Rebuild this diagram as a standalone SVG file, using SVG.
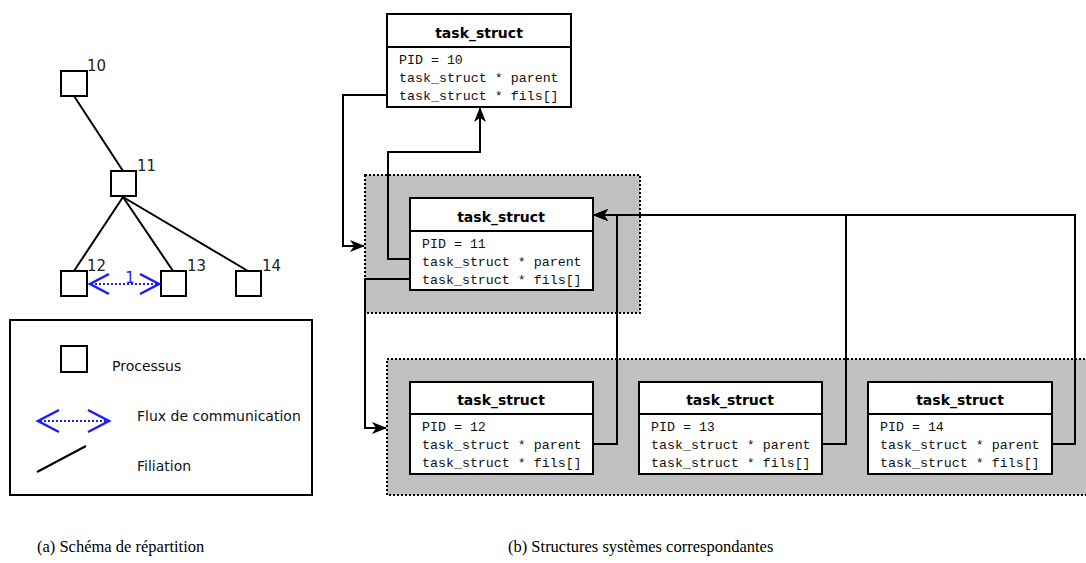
<svg xmlns="http://www.w3.org/2000/svg" width="1086" height="563" viewBox="0 0 1086 563">
  <style>
    .sq { fill: #fff; stroke: #000; stroke-width: 2; }
    .edge { fill: none; stroke: #000; stroke-width: 2; }
    .flux { fill: none; stroke: #1a1aff; stroke-width: 2; stroke-dasharray: 2 2; }
    .chev { fill: none; stroke: #1a1aff; stroke-width: 2.5; stroke-linejoin: miter; }
    .num { font-family: "DejaVu Sans", sans-serif; font-size: 15px; fill: #222; }
    .leg { font-family: "DejaVu Sans", sans-serif; font-size: 14px; fill: #111; }
    .group { fill: #c0c0c0; stroke: #000; stroke-width: 2; stroke-dasharray: 2 2; }
    .box { fill: #fff; stroke: #000; stroke-width: 2; }
    .title { font-family: "DejaVu Sans", sans-serif; font-size: 14px; font-weight: bold; text-anchor: middle; fill: #000; }
    .field { font-family: "Liberation Mono", monospace; font-size: 13.3px; fill: #111; }
    .conn { fill: none; stroke: #000; stroke-width: 2; }
    .caption { font-family: "Liberation Serif", serif; font-size: 16.5px; fill: #000; }
  </style>
  <defs>
    <marker id="arrow" viewBox="0 0 15 12" refX="14" refY="6" markerWidth="15" markerHeight="12" markerUnits="userSpaceOnUse" orient="auto">
      <path d="M0,0 L15,6 L0,12 L4,6 z" fill="#000"/>
    </marker>
  </defs>

  <rect width="1086" height="563" fill="#fff"/>

  <!-- (a) process tree -->
  <g id="tree-edges">
    <line class="edge" x1="74" y1="96" x2="123" y2="171"/>
    <line class="edge" x1="123" y1="197" x2="74" y2="271"/>
    <line class="edge" x1="123" y1="197" x2="173" y2="271"/>
    <line class="edge" x1="123" y1="197" x2="248" y2="271"/>
  </g>
  <g id="p10"><rect class="sq" x="61" y="71" width="26" height="25"/><text class="num" x="87" y="71">10</text></g>
  <g id="p11"><rect class="sq" x="111" y="171" width="25" height="25"/><text class="num" x="137" y="171">11</text></g>
  <g id="p12"><rect class="sq" x="61" y="271" width="26" height="25"/><text class="num" x="87" y="271">12</text></g>
  <g id="p13"><rect class="sq" x="161" y="271" width="25" height="25"/><text class="num" x="187" y="271">13</text></g>
  <g id="p14"><rect class="sq" x="236" y="271" width="25" height="25"/><text class="num" x="262" y="271">14</text></g>
  <g id="flux-12-13">
    <line class="flux" x1="91" y1="284" x2="158" y2="284"/>
    <path class="chev" d="M109,274 L90,284 L109,294"/>
    <path class="chev" d="M140,274 L159,284 L140,294"/>
    <text x="130" y="283" font-family="DejaVu Sans, sans-serif" font-size="15" fill="#1a1aff" text-anchor="middle">1</text>
  </g>

  <!-- legend -->
  <g id="legend">
    <rect x="10" y="320" width="302" height="175" fill="#fff" stroke="#000" stroke-width="2"/>
    <rect class="sq" x="61" y="346" width="26" height="26"/>
    <text class="leg" x="112" y="371">Processus</text>
    <line class="flux" x1="40" y1="421" x2="107" y2="421"/>
    <path class="chev" d="M59,410 L38,421 L59,432"/>
    <path class="chev" d="M88,410 L109,421 L88,432"/>
    <text class="leg" x="137" y="421">Flux de communication</text>
    <line class="edge" x1="37" y1="472" x2="86" y2="446"/>
    <text class="leg" x="137" y="471">Filiation</text>
  </g>

  <!-- (b) kernel structures: grouping areas -->
  <rect id="group-11" class="group" x="365" y="175" width="275" height="138"/>
  <rect id="group-children" class="group" x="387" y="359" width="710" height="136"/>

  <g id="ts10">
    <rect class="box" x="387" y="14" width="184" height="93"/>
    <line class="edge" x1="387" y1="47" x2="571" y2="47"/>
    <text class="title" x="479" y="38">task_struct</text>
    <text class="field" x="399" y="64">PID = 10</text>
    <text class="field" x="399" y="82">task_struct * parent</text>
    <text class="field" x="399" y="100">task_struct * fils[]</text>
  </g>
  <g id="ts11">
    <rect class="box" x="410" y="198" width="183" height="92"/>
    <line class="edge" x1="410" y1="231" x2="593" y2="231"/>
    <text class="title" x="501" y="222">task_struct</text>
    <text class="field" x="422" y="248">PID = 11</text>
    <text class="field" x="422" y="266">task_struct * parent</text>
    <text class="field" x="422" y="284">task_struct * fils[]</text>
  </g>
  <g id="ts12">
    <rect class="box" x="410" y="382" width="183" height="92"/>
    <line class="edge" x1="410" y1="414" x2="593" y2="414"/>
    <text class="title" x="501" y="405">task_struct</text>
    <text class="field" x="422" y="431">PID = 12</text>
    <text class="field" x="422" y="449">task_struct * parent</text>
    <text class="field" x="422" y="467">task_struct * fils[]</text>
  </g>
  <g id="ts13">
    <rect class="box" x="639" y="382" width="183" height="92"/>
    <line class="edge" x1="639" y1="414" x2="822" y2="414"/>
    <text class="title" x="730" y="405">task_struct</text>
    <text class="field" x="651" y="431">PID = 13</text>
    <text class="field" x="651" y="449">task_struct * parent</text>
    <text class="field" x="651" y="467">task_struct * fils[]</text>
  </g>
  <g id="ts14">
    <rect class="box" x="868" y="382" width="184" height="92"/>
    <line class="edge" x1="868" y1="414" x2="1052" y2="414"/>
    <text class="title" x="960" y="405">task_struct</text>
    <text class="field" x="880" y="431">PID = 14</text>
    <text class="field" x="880" y="449">task_struct * parent</text>
    <text class="field" x="880" y="467">task_struct * fils[]</text>
  </g>

  <g id="connectors">
    <path class="conn" d="M387,95 H343 V246 H364" marker-end="url(#arrow)"/>
    <path class="conn" d="M410,259 H388 V152 H480 V108" marker-end="url(#arrow)"/>
    <path class="conn" d="M410,279 H365 V428 H386" marker-end="url(#arrow)"/>
    <path class="conn" d="M593,444 H617 V215 H594" marker-end="url(#arrow)"/>
    <path class="conn" d="M822,444 H846 V215 H594" marker-end="url(#arrow)"/>
    <path class="conn" d="M1052,444 H1075 V215 H594" marker-end="url(#arrow)"/>
  </g>

  <text class="caption" x="37" y="552">(a) Schéma de répartition</text>
  <text class="caption" x="508" y="552">(b) Structures systèmes correspondantes</text>
</svg>
